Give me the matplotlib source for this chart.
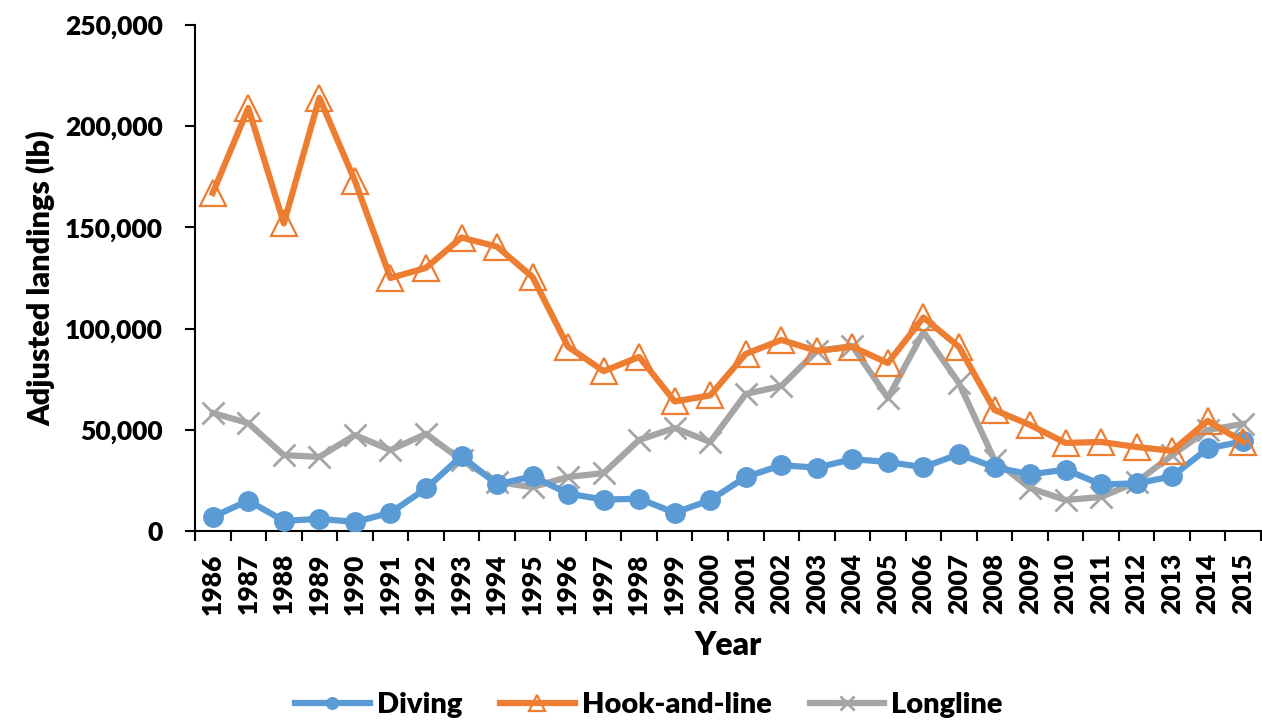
import matplotlib
matplotlib.use("Agg")
import matplotlib.pyplot as plt
from matplotlib.ticker import FuncFormatter, FixedLocator

years = list(range(1986, 2016))
diving = [7000, 15000, 5000, 6000, 4500, 9000, 21000, 37000, 23000, 27000,
          18500, 15500, 16000, 9000, 15300, 26700, 32500, 31300, 35500, 34100,
          31500, 38000, 31500, 28000, 30300, 23000, 23500, 27000, 40800, 44300]
hook_and_line = [167000, 209000, 152000, 214000, 173000, 125000, 130000, 145000, 140500, 125500,
                 91000, 79000, 86000, 64000, 67000, 87500, 94400, 89000, 91000, 83000,
                 105500, 91000, 59800, 52400, 43500, 44000, 41500, 39600, 54400, 44000]
longline = [58300, 53300, 37500, 36600, 47400, 40000, 48000, 35000, 24200, 21700,
            26700, 28600, 45000, 50900, 44000, 67700, 71600, 89000, 91400, 65700,
            98300, 73100, 35100, 21200, 15300, 16800, 24200, 37500, 49900, 52900]

W = 'heavy'
plt.rcParams['font.family'] = ['Lato', 'DejaVu Sans']
plt.rcParams['font.weight'] = W

fig = plt.figure(figsize=(12.62, 7.24), dpi=100)
ax = fig.add_axes([195/1262, 1-531/724, 1066/1262, 506/724])

x = list(range(len(years)))
ax.plot(x, diving, color='#5B9BD5', lw=4.5, marker='o', ms=14,
        mfc='#5B9BD5', mec='#5B9BD5', label='Diving', solid_joinstyle='round', zorder=3)
ax.plot(x, hook_and_line, color='#ED7D31', lw=4.5, marker='^', ms=19,
        mfc='none', mec='#ED7D31', mew=1.6, label='Hook-and-line', solid_joinstyle='round', zorder=4)
ax.plot(x, longline, color='#A5A5A5', lw=4.5, marker='x', ms=16,
        mec='#A5A5A5', mew=2, label='Longline', solid_joinstyle='round', zorder=2)

ax.set_xlim(-0.5, len(years) - 0.5)
ax.set_ylim(0, 250000)
ax.set_yticks([0, 50000, 100000, 150000, 200000, 250000])
ax.yaxis.set_major_formatter(FuncFormatter(lambda v, p: f"{int(v):,}"))
ax.set_xticks(x)
ax.set_xticklabels([str(y) for y in years], rotation=90, fontsize=19, fontweight=W)
ax.xaxis.set_minor_locator(FixedLocator([i - 0.5 for i in range(len(years) + 1)]))
ax.tick_params(axis='x', which='major', length=0, pad=16)
ax.tick_params(axis='x', which='minor', length=7, width=1.5, direction='out')
ax.tick_params(axis='y', which='major', length=7, width=1.5, direction='out', labelsize=19, pad=16)
for lbl in ax.get_yticklabels():
    lbl.set_fontweight(W)

for s in ['top', 'right']:
    ax.spines[s].set_visible(False)
ax.spines['left'].set_linewidth(1.5)
ax.spines['bottom'].set_linewidth(1.5)

ax.set_xlabel('Year', fontsize=23, fontweight=W, labelpad=12)
ax.set_ylabel('Adjusted landings (lb)', fontsize=22, fontweight=W, labelpad=7)

leg = fig.legend(loc='center', bbox_to_anchor=(649/1262, 1-705/724), ncol=3, frameon=False,
                 handlelength=2.55, columnspacing=1.3, handletextpad=0.25, markerscale=0.6,
                 prop={'weight': W, 'size': 21})

fig.savefig('out.png', dpi=100)
